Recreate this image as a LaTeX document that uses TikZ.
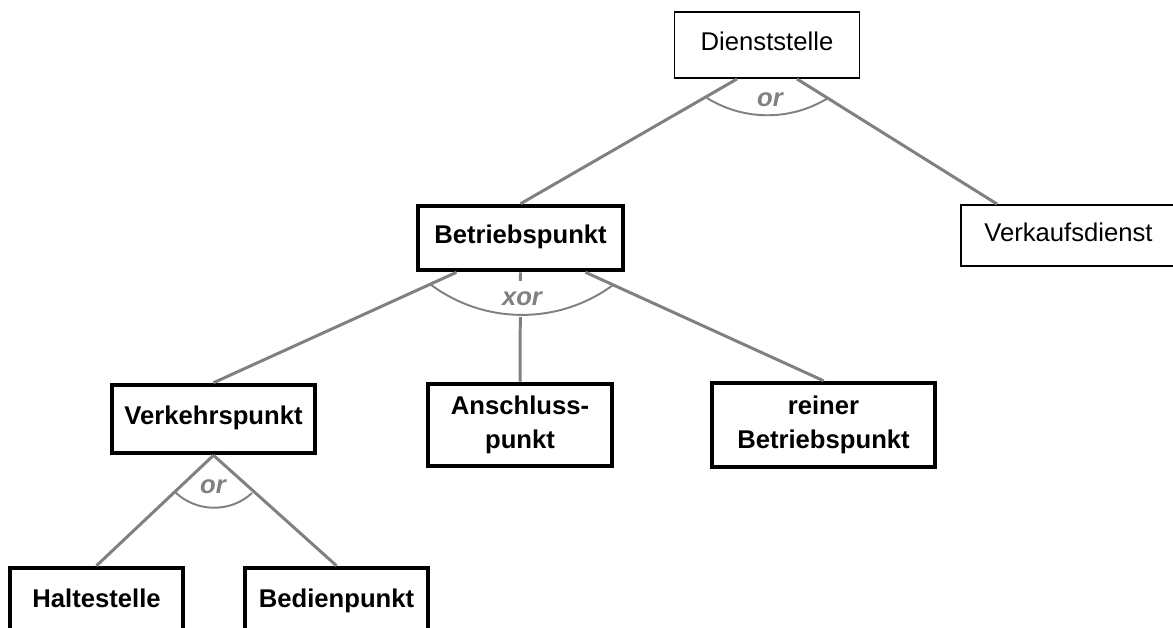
\documentclass[tikz,border=0pt]{standalone}
\usepackage{fontspec}
\setmainfont{Liberation Sans}
\usetikzlibrary{calc}
\definecolor{linkgray}{RGB}{128,128,128}

\begin{document}
\begin{tikzpicture}[x=0.02cm, y=-0.02cm,
  every node/.style={font=\fontsize{14.6}{19.3}\selectfont},
  plain/.style={draw, line width=1.1pt, align=center, inner sep=0pt},
  key/.style={draw, line width=2.6pt, align=center, inner sep=0pt,
              font=\fontsize{14.6}{19.3}\selectfont\bfseries},
  oneline/.style={text height=0.72em, text depth=0.06em},
  link/.style={linkgray, line width=1.7pt},
  gate/.style={linkgray, line width=1.1pt},
  gatelabel/.style={text=linkgray, font=\fontsize{14.6}{17}\selectfont\bfseries\itshape},
]

%% picture frame (the reference is cropped)
\clip (0,0) rectangle (1173,627);

%% top level
\node[plain, oneline, minimum width=3.7cm, minimum height=1.32cm] (dienst) at (767,45) {Dienststelle};
\node[plain, oneline, minimum width=4.3cm, minimum height=1.22cm] (verkauf) at (1068.5,235.5) {Verkaufsdienst};

%% Betriebspunkt and its kinds
\node[key, oneline, minimum width=4.1cm, minimum height=1.28cm] (betrieb) at (520.5,238) {Betriebspunkt};
\node[key, oneline, minimum width=4.06cm, minimum height=1.36cm] (verkehr) at (213.5,419) {Verkehrspunkt};
\node[key, minimum width=3.68cm, minimum height=1.64cm] (anschluss) at (520,425) {Anschluss-\\punkt};
\node[key, minimum width=4.46cm, minimum height=1.68cm] (reiner) at (823.5,425) {reiner\\Betriebspunkt};

%% Verkehrspunkt kinds
\node[key, oneline, minimum width=3.46cm, minimum height=1.36cm] (halte) at (96.5,602) {Haltestelle};
\node[key, oneline, minimum width=3.66cm, minimum height=1.36cm] (bedien) at (336.5,602) {Bedienpunkt};

%% Connections
\draw[link] ($(dienst.south)+(-30,0)$) -- (betrieb.north);
\draw[link] ($(dienst.south)+(30,0)$) -- ($(verkauf.north west)+(37,0)$);

\draw[link] ($(betrieb.south)+(-64,0)$) -- (verkehr.north);
\draw[link] (betrieb.south) -- (anschluss.north);
\draw[link] ($(betrieb.south)+(65,0)$) -- (reiner.north);

\draw[link] (verkehr.south) -- (halte.north);
\draw[link] (verkehr.south) -- (bedien.north);

%% Gates
\node[gatelabel] (orA) at (770,100) {or};
\draw[gate] (707,98) .. controls (744,121) and (791,121) .. (828,98);

\node[gatelabel, fill=white, inner ysep=6pt] (xorB) at (522,299) {xor};
\draw[gate] (430,284) .. controls (484,325) and (559,325) .. (613,285);

\node[gatelabel] (orC) at (213,487) {or};
\draw[gate] (175,492) .. controls (196.5,512.6) and (230.5,513) .. (252,493);

\end{tikzpicture}
\end{document}
